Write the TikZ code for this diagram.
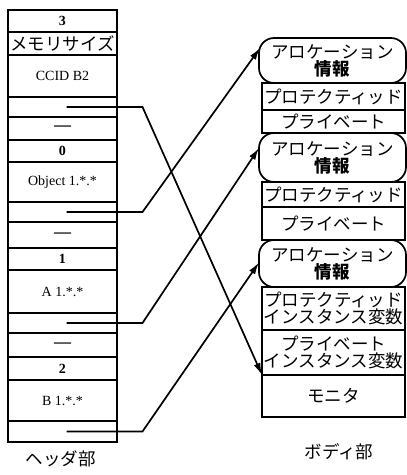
\documentclass[tikz,border=0pt]{standalone}
\usepackage{fontspec}
\setmainfont{Liberation Serif}
\newfontfamily\jp{Noto Sans CJK JP}
\usetikzlibrary{arrows.meta}
\begin{document}
\begin{tikzpicture}[x=1pt,y=1pt,
 cell/.style={draw, line width=1.7pt, rectangle, inner sep=0pt, outer sep=0pt, minimum width=109pt},
 bcell/.style={draw, line width=1.7pt, rectangle, inner sep=0pt, outer sep=0pt, minimum width=143pt, font=\jp\fontsize{17.5}{17}\selectfont, align=center},
 alloc/.style={bcell, rounded corners=15pt, minimum width=147pt},
 conn/.style={line width=1.7pt, -{Latex[length=12pt,width=7pt]}},
 lat/.style={font=\fontsize{14}{14}\selectfont},
 num/.style={font=\bfseries\fontsize{14}{14}\selectfont},
 dsh/.style={font=\bfseries\fontsize{17}{17}\selectfont},
 lbl/.style={font=\jp\fontsize{17.5}{17}\selectfont},
]
\useasboundingbox (0,0) rectangle (407,-475);
% header column
\node[cell,num,minimum height=22] (r3) at (62.5,-21) {3};
\node[cell,minimum height=23,font=\jp\fontsize{17.5}{17}\selectfont] (rmem) at (62.5,-43.5) {メモリサイズ};
\node[cell,lat,minimum height=42] (rccid) at (62.5,-76) {CCID B2};
\node[cell,minimum height=20] (re1) at (62.5,-107) {};
\node[cell,dsh,minimum height=23] (rd1) at (62.5,-128.5) {—};
\node[cell,num,minimum height=22] (r0) at (62.5,-151) {0};
\node[cell,lat,minimum height=40] (robj) at (62.5,-182) {Object 1.*.*};
\node[cell,minimum height=20] (re2) at (62.5,-212) {};
\node[cell,dsh,minimum height=26] (rd2) at (62.5,-235) {—};
\node[cell,num,minimum height=22] (r1) at (62.5,-259) {1};
\node[cell,lat,minimum height=43] (ra) at (62.5,-291.5) {A 1.*.*};
\node[cell,minimum height=20] (re3) at (62.5,-323) {};
\node[cell,dsh,minimum height=24] (rd3) at (62.5,-345) {—};
\node[cell,num,minimum height=23] (r2) at (62.5,-368.5) {2};
\node[cell,lat,minimum height=41] (rb) at (62.5,-400.5) {B 1.*.*};
\node[cell,minimum height=21] (re4) at (62.5,-431.5) {};
\node[lbl] (hdr) at (61,-459) {ヘッダ部};
% body column
\node[alloc,minimum height=45] (al1) at (332.5,-60.5) {アロケーション\\\textbf{情報}};
\node[bcell,minimum height=27] (pr1) at (333.5,-96.5) {プロテクティッド};
\node[bcell,minimum height=23] (pv1) at (333.5,-121.5) {プライベート};
\node[alloc,minimum height=49] (al2) at (332.5,-157.5) {アロケーション\\\textbf{情報}};
\node[bcell,minimum height=25] (pr2) at (333.5,-194.5) {プロテクティッド};
\node[bcell,minimum height=33] (pv2) at (333.5,-223.5) {プライベート};
\node[alloc,minimum height=47] (al3) at (332.5,-263.5) {アロケーション\\\textbf{情報}};
\node[bcell,minimum height=43] (pr3) at (333.5,-308.5) {プロテクティッド\\インスタンス変数};
\node[bcell,minimum height=45] (pv3) at (333.5,-352.5) {プライベート\\インスタンス変数};
\node[bcell,minimum height=42] (mon) at (333.5,-396) {モニタ};
\node[lbl] (body) at (339,-452) {ボディ部};
% connectors
\draw[conn] ([xshift=4pt]re1.center) -- ++(76,0) -- (mon.north west);
\draw[conn] ([xshift=4pt]re2.center) -- ++(76,0) -- ([shift={(1,-10)}]al1.north west);
\draw[conn] ([xshift=4pt]re3.center) -- ++(76,0) -- ([shift={(0,-15)}]al2.north west);
\draw[conn] ([xshift=4pt]re4.center) -- ++(76,0) -- ([yshift=1]al3.west);
\end{tikzpicture}
\end{document}
